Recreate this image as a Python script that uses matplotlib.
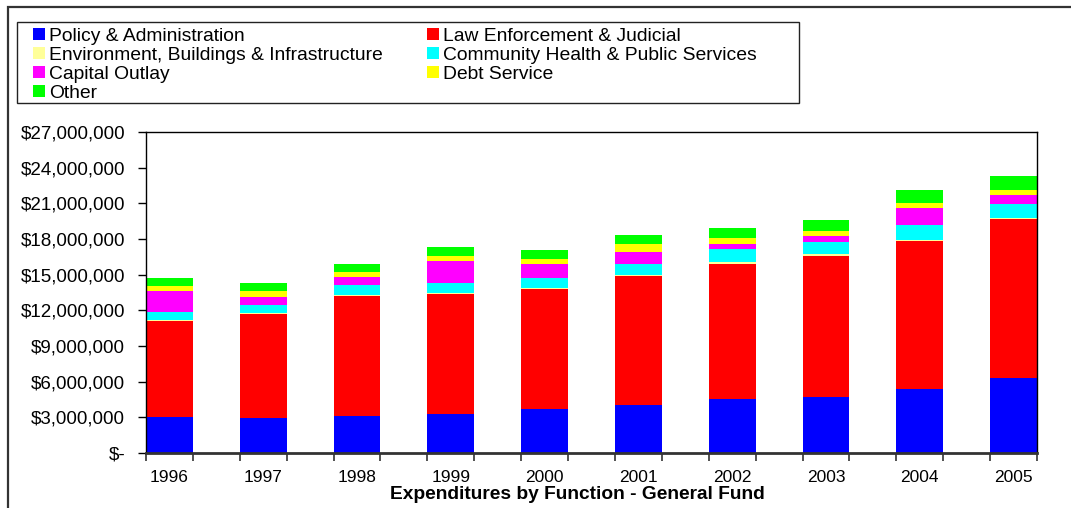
import numpy as np
import matplotlib as mpl
import matplotlib.pyplot as plt
from matplotlib.patches import Rectangle, Patch
from matplotlib.ticker import FuncFormatter, MultipleLocator

mpl.rcParams['font.family'] = ['Liberation Sans', 'DejaVu Sans']

# Data (millions of dollars)
years = ["1996", "1997", "1998", "1999", "2000", "2001", "2002", "2003", "2004", "2005"]
policy = [3.00, 2.92, 3.11, 3.25, 3.68, 4.01, 4.52, 4.68, 5.36, 6.28]
law = [8.12, 8.80, 10.12, 10.15, 10.10, 10.88, 11.35, 11.86, 12.50, 13.43]
environment = [0.07, 0.03, 0.06, 0.06, 0.07, 0.08, 0.17, 0.17, 0.03, 0.03]
community = [0.64, 0.67, 0.81, 0.81, 0.84, 0.90, 1.09, 1.01, 1.26, 1.18]
capital = [1.77, 0.67, 0.68, 1.85, 1.18, 1.01, 0.42, 0.50, 1.43, 0.75]
debt = [0.42, 0.51, 0.42, 0.42, 0.42, 0.67, 0.51, 0.43, 0.42, 0.42]
other = [0.67, 0.67, 0.67, 0.76, 0.76, 0.76, 0.84, 0.92, 1.09, 1.18]

series = [
  ("Policy & Administration", policy, "#0000FF"),
  ("Law Enforcement & Judicial", law, "#FF0000"),
  ("Environment, Buildings & Infrastructure", environment, "#FFFF99"),
  ("Community Health & Public Services", community, "#00FFFF"),
  ("Capital Outlay", capital, "#FF00FF"),
  ("Debt Service", debt, "#FFFF00"),
  ("Other", other, "#00FF00"),
]

W, H = 1071, 508
fig = plt.figure(figsize=(W / 100, H / 100), dpi=100)
ax = fig.add_axes([146 / W, 1 - 453 / H, 891 / W, 321 / H])

x = np.arange(len(years))
bottom = np.zeros(len(years))
for name, vals, color in series:
  v = np.array(vals) * 1e6
  ax.bar(x, v, width=0.5, bottom=bottom, color=color, linewidth=0)
  bottom += v

ax.yaxis.set_major_locator(MultipleLocator(3e6))
ax.yaxis.set_major_formatter(FuncFormatter(lambda v, p: "$-" if v == 0 else "${:,.0f}".format(v)))
ax.tick_params(axis="y", direction="out", length=6, width=1, pad=9, labelsize=13.5)

ax.set_xticks(x)
ax.set_xticklabels(years)
ax.set_xticks(np.arange(-0.25, len(years) - 0.5, 0.5), minor=True)
ax.tick_params(axis="x", which="major", length=0, pad=12, labelsize=12.5)
ax.tick_params(axis="x", which="minor", direction="out", length=6, width=1.2, color="#333333")

ax.set_xlim(-0.25, len(years) - 0.75)
ax.set_ylim(0, 27e6)

for s in ax.spines.values():
  s.set_color("black")
  s.set_linewidth(1)
ax.spines["bottom"].set_color("#333333")
ax.spines["bottom"].set_linewidth(2)

ax.set_xlabel("Expenditures by Function - General Fund", fontsize=13.75, fontweight="bold")
ax.xaxis.set_label_coords(0.4845, -0.104)

# outer chart frame (only top/left edges visible)
fig.patches.append(Rectangle((8 / W, -0.1), 1.2, 1 - 7 / H + 0.1, transform=fig.transFigure,
                             fill=False, edgecolor="#333333", linewidth=1.6))
# legend box
fig.patches.append(Rectangle((17 / W, 1 - 103 / H), 782 / W, 81 / H, transform=fig.transFigure,
                             fill=False, edgecolor="#222222", linewidth=1))

handles = [Patch(facecolor=c, edgecolor="none") for _, _, c in series]
labels = [n for n, _, _ in series]
order = [0, 2, 4, 6, 1, 3, 5]
fig.legend([handles[i] for i in order], [labels[i] for i in order], ncol=2,
           loc="upper left", bbox_to_anchor=(29 / W, 1 - 24 / H), frameon=False,
           fontsize=13.9, handlelength=0.62, handleheight=0.62, handletextpad=0.22,
           labelspacing=0.1, columnspacing=2.3, borderpad=0.2, borderaxespad=0)

fig.savefig("out.png", dpi=100)
